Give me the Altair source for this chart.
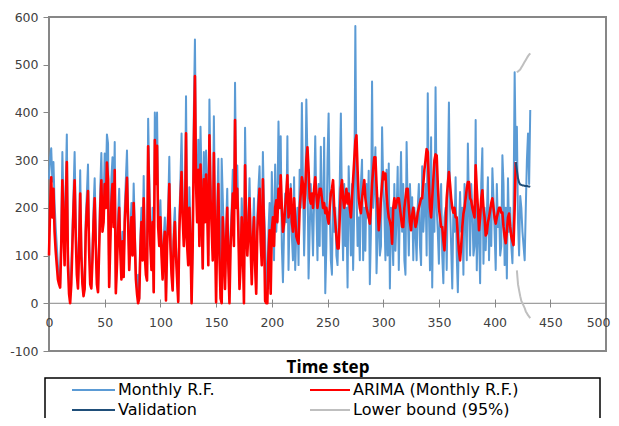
import altair as alt
import pandas as pd

# ---------------- data ----------------
monthly_rf = [
    260, 305, 325, 255, 296, 210, 160, 120, 80, 55,
    40, 160, 317, 210, 110, 240, 354, 107, 48, 20,
    70, 150, 230, 317, 180, 90, 35, 140, 279, 120,
    60, 20, 40, 180, 230, 291, 140, 60, 35, 110,
    200, 262, 150, 50, 25, 130, 240, 315, 180, 200,
    314, 250, 354, 335, 40, 150, 260, 306, 200, 338,
    30, 100, 180, 240, 130, 60, 150, 55, 200, 260,
    320, 200, 90, 150, 210, 120, 251, 160, 60, 30,
    60, 10, 140, 200, 110, 267, 120, 80, 48, 387,
    260, 150, 90, 200, 25, 400, 300, 400, 200, 150,
    216, 120, 60, 140, 180, 10, 150, 200, 307, 150,
    80, 30, 160, 200, 120, 60, 5, 180, 260, 356,
    220, 150, 180, 434, 150, 100, 243, 160, 5, 140,
    400, 553, 300, 200, 343, 150, 370, 250, 75, 317,
    200, 320, 250, 100, 427, 260, 200, 110, 392, 180,
    60, 200, 303, 120, 30, 303, 220, 140, 50, 160,
    240, 100, 20, 150, 200, 280, 150, 462, 250, 289,
    180, 40, 100, 220, 150, 30, 368, 200, 120, 180,
    262, 150, 60, 150, 220, 100, 30, 180, 240, 287,
    160, 100, 317, 200, 140, 20, 60, 150, 210, 30,
    275, 180, 90, 291, 150, 200, 381, 250, 350, 120,
    44, 150, 230, 170, 350, 70, 180, 250, 140, 90,
    264, 70, 150, 200, 80, 280, 200, 420, 250, 100,
    200, 427, 300, 52, 150, 250, 180, 100, 220, 350,
    200, 90, 250, 120, 328, 200, 100, 347, 21, 120,
    300, 398, 200, 90, 60, 250, 150, 200, 100, 80,
    180, 250, 398, 200, 90, 250, 120, 200, 33, 287,
    200, 100, 250, 70, 200, 581, 250, 120, 180, 90,
    250, 301, 90, 200, 110, 250, 180, 278, 40, 150,
    465, 200, 250, 327, 63, 150, 220, 100, 120, 369,
    250, 200, 90, 280, 100, 293, 31, 200, 150, 80,
    250, 110, 180, 286, 70, 200, 317, 150, 250, 90,
    60, 338, 200, 100, 250, 180, 222, 90, 200, 150,
    90, 200, 250, 120, 80, 287, 150, 200, 250, 100,
    440, 200, 69, 348, 33, 250, 150, 453, 200, 150,
    83, 200, 250, 100, 42, 180, 200, 70, 250, 421,
    200, 120, 31, 200, 150, 264, 100, 23, 150, 233,
    150, 200, 60, 250, 180, 90, 335, 200, 100, 250,
    200, 100, 120, 384, 69, 200, 150, 42, 250, 325,
    83, 200, 111, 180, 264, 90, 200, 120, 283, 220,
    150, 70, 250, 160, 200, 100, 120, 310, 251, 80,
    200, 52, 262, 150, 200, 120, 84, 200, 484, 300,
    370, 170, 100, 225, 200, 150, 120, 90, 200, 300,
    356, 250, 405,
]

arima = [
    100, 200, 264, 180, 240, 150, 110, 80, 50, 40,
    33, 120, 258, 160, 80, 200, 296, 80, 20, 0,
    40, 120, 200, 258, 140, 60, 31, 110, 230, 100,
    40, 15, 30, 150, 200, 235, 110, 40, 31, 90,
    170, 220, 120, 40, 23, 110, 200, 258, 150, 170,
    250, 200, 295, 260, 34, 120, 210, 250, 160, 279,
    21, 80, 150, 200, 110, 50, 130, 55, 170, 220,
    263, 170, 70, 120, 180, 100, 210, 130, 50, 20,
    0, 10, 110, 170, 90, 220, 100, 60, 48, 329,
    220, 120, 70, 170, 23, 342, 250, 330, 160, 120,
    180, 100, 50, 120, 150, 6, 120, 170, 250, 120,
    60, 27, 130, 170, 100, 50, 3, 150, 220, 275,
    180, 120, 150, 356, 120, 80, 200, 130, 0, 120,
    330, 476, 250, 170, 280, 120, 291, 200, 73, 260,
    170, 270, 200, 80, 352, 220, 160, 90, 315, 150,
    2, 160, 250, 100, 10, 0, 180, 110, 30, 130,
    200, 80, 0, 120, 170, 230, 120, 384, 200, 240,
    150, 30, 80, 180, 120, 0, 289, 160, 100, 150,
    220, 120, 40, 130, 180, 80, 20, 150, 200, 240,
    130, 80, 260, 160, 5, 0, 0, 100, 153, 20,
    153, 180, 120, 200, 216, 170, 240, 200, 268, 200,
    150, 167, 200, 230, 268, 180, 200, 240, 170, 150,
    220, 180, 140, 132, 125, 200, 230, 264, 250, 200,
    230, 300, 327, 280, 220, 209, 230, 200, 240, 264,
    230, 200, 220, 240, 240, 220, 200, 210, 189, 200,
    180, 167, 200, 230, 240, 258, 200, 170, 140, 115,
    115, 180, 240, 258, 220, 200, 220, 240, 209, 230,
    200, 180, 220, 260, 300, 340, 352, 280, 220, 200,
    189, 220, 240, 258, 220, 200, 190, 180, 167, 200,
    250, 280, 306, 306, 250, 200, 153, 180, 220, 250,
    275, 260, 272, 230, 200, 180, 172, 160, 125, 200,
    220, 200, 210, 220, 220, 200, 180, 160, 160, 200,
    220, 240, 240, 200, 170, 153, 185, 200, 180, 160,
    170, 190, 200, 210, 220, 220, 250, 280, 300, 323,
    317, 250, 200, 180, 220, 260, 300, 312, 310, 250,
    200, 180, 160, 160, 132, 111, 160, 220, 250, 275,
    250, 220, 200, 190, 200, 180, 180, 140, 110, 90,
    120, 160, 187, 200, 220, 240, 254, 254, 220, 215,
    200, 190, 180, 289, 240, 200, 153, 180, 220, 237,
    200, 180, 142, 147, 170, 180, 195, 210, 220, 200,
    180, 167, 180, 190, 200, 200, 190, 190, 160, 140,
    126, 150, 180, 188, 160, 140, 130, 122, 200, 296,
]

validation_t = [419, 420, 421, 422, 423, 424, 425, 426, 427, 428, 429, 430, 431, 432]
validation = [296, 279, 262, 253, 249, 248, 247, 247, 246, 246, 246, 245, 245, 244]

bound_t = [420, 421, 422, 423, 424, 425, 426, 427, 428, 429, 430, 431, 432]
lower_bound = [69, 40, 27, 15, 5, 0, -5, -10, -17, -21, -25, -28, -31]
upper_bound = [484, 486, 488, 490, 494, 498, 502, 506, 510, 514, 518, 521, 524]

series_names = ["Monthly R.F.", "ARIMA (Monthly R.F.)", "Validation",
                "Lower bound (95%)", "Upper bound (95%)"]
series_colors = ["#5B9BD5", "#FF0000", "#1F4E79", "#BFBFBF", "#BFBFBF"]
series_widths = [2, 2.6, 2, 2, 2]

# the legend rows that are visible in the picture (the rest is cut off)
legend_names = series_names[:4]
legend_colors = series_colors[:4]

x_ticks = [0, 50, 100, 150, 200, 250, 300, 350, 400, 450, 500]
y_ticks = [-100, 0, 100, 200, 300, 400, 500, 600]

# ---------------- chart ----------------
W, H = 557, 334
FONT = "DejaVu Sans"

frames = [
    pd.DataFrame({"t": list(range(len(monthly_rf))), "v": monthly_rf}),
    pd.DataFrame({"t": list(range(len(arima))), "v": arima}),
    pd.DataFrame({"t": validation_t, "v": validation}),
    pd.DataFrame({"t": bound_t, "v": lower_bound}),
    pd.DataFrame({"t": bound_t, "v": upper_bound}),
]

last_tick = "datum.value == %d" % x_ticks[-1]
x_enc = alt.X("t:Q", scale=alt.Scale(domain=[0, 500], nice=False, zero=False),
              axis=alt.Axis(values=x_ticks, offset=-52, tickSize=8, labelPadding=9,
                            labelFlush=False, labelOverlap=False, domain=False,
                            labelAlign={"condition": {"test": last_tick, "value": "right"},
                                        "value": "center"},
                            labelOffset={"condition": {"test": last_tick, "value": 4},
                                         "value": 0},
                            title="Time step", titleFontSize=17, titleFontWeight="bold",
                            titleColor="#000000", titleFont="Open Sans", titleY=68,
                            titleBaseline="middle"))
y_enc = alt.Y("v:Q", scale=alt.Scale(domain=[-100, 600], nice=False, zero=False),
              axis=alt.Axis(values=y_ticks, tickSize=6, labelPadding=5, domain=False,
                            labelExpr="'' + datum.value", title=""))

zero_line = alt.Chart(pd.DataFrame({"z": [0]})).mark_rule(
    color="#878787", strokeWidth=1).encode(
    y=alt.Y("z:Q", scale=alt.Scale(domain=[-100, 600], nice=False)))

layers = [zero_line]
for df, name, col, w in zip(frames, series_names, series_colors, series_widths):
    layers.append(
        alt.Chart(df).mark_line(color=col, strokeWidth=w, strokeJoin="round").encode(
            x=x_enc, y=y_enc)
    )

# legend (drawn box, cut off by the bottom edge as in the reference)
dummy = pd.DataFrame({"a": [0]})
box = alt.Chart(dummy).mark_rect(fillOpacity=0, stroke="#000000", strokeWidth=1.5).encode(
    x=alt.value(-4), x2=alt.value(551), y=alt.value(361), y2=alt.value(450))
layers.append(box)
leg_cols = [(23, 66, 69), (261, 301, 304)]
leg_rows = [373, 393]
for i, (name, col) in enumerate(zip(legend_names, legend_colors)):
    r, c = divmod(i, 2)
    x1, x2, xt = leg_cols[c]
    yy = leg_rows[r]
    layers.append(alt.Chart(dummy).mark_rule(color=col, strokeWidth=2).encode(
        x=alt.value(x1), x2=alt.value(x2), y=alt.value(yy)))
    layers.append(alt.Chart(dummy).mark_text(
        text=name, align="left", baseline="middle", font=FONT, fontSize=16,
        color="#000000").encode(x=alt.value(xt), y=alt.value(yy)))

chart = alt.layer(*layers).properties(
    width=W, height=H,
    autosize=alt.AutoSizeParams(type="none"),
    padding={"left": 41, "top": 9, "right": 5, "bottom": 67},
).configure_view(stroke="#878787", strokeWidth=2).configure_axis(
    grid=False, labelFont=FONT, labelFontSize=12.5, labelColor="#404040",
    tickColor="#878787", tickWidth=1)

chart.save("out.html", embed_options={"renderer": "svg", "actions": False})
